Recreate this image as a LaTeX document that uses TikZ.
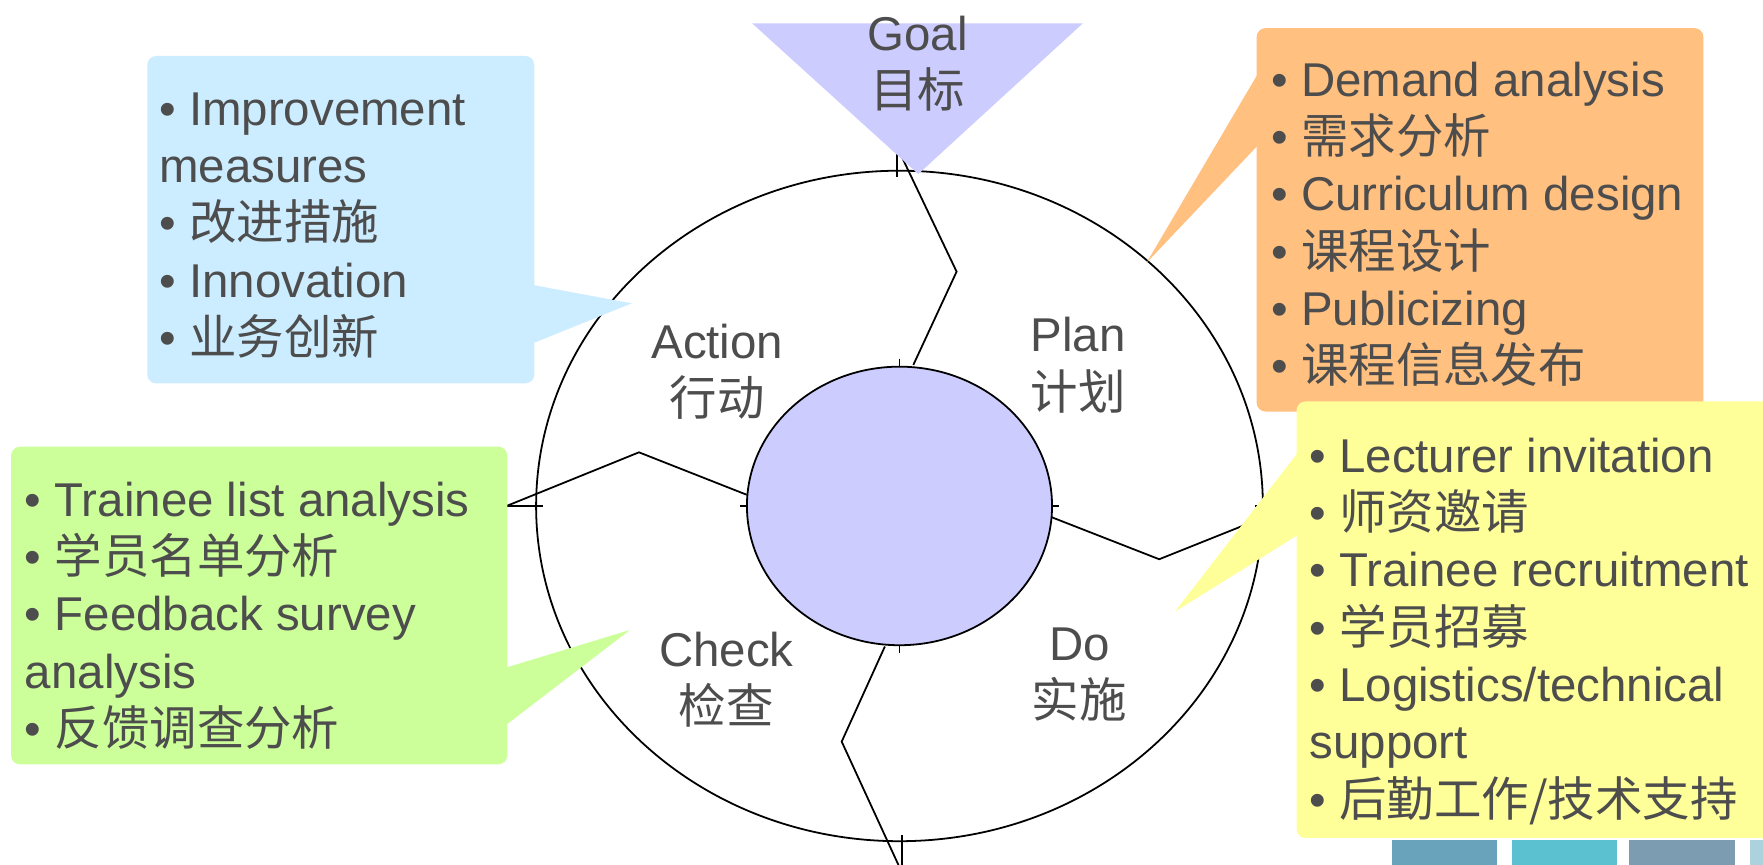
\documentclass[tikz,border=0pt]{standalone}
\usepackage{fontspec}
\setmainfont{Liberation Sans}
\newfontfamily\cjk{Noto Sans CJK SC}
\definecolor{txt}{RGB}{77,77,77}
\definecolor{lav}{RGB}{204,204,255}
\definecolor{cblue}{RGB}{204,236,255}
\definecolor{corange}{RGB}{255,192,128}
\definecolor{cgreen}{RGB}{204,255,153}
\definecolor{cyellow}{RGB}{255,255,153}
\definecolor{barA}{RGB}{104,162,187}
\definecolor{barB}{RGB}{91,192,207}
\definecolor{barC}{RGB}{123,156,177}
\definecolor{barD}{RGB}{172,210,222}
\newcommand\leftlines[1]{\vtop{\baselineskip=14.5pt\lineskiplimit=-50pt\lineskip=0pt\halign{##\hfil\cr#1\crcr}}}
\newcommand\midlines[1]{\vtop{\baselineskip=14.5pt\lineskiplimit=-50pt\lineskip=0pt\halign{\hfil##\hfil\cr#1\crcr}}}
\tikzset{
  lbl/.style={inner sep=0pt, text=txt, font=\fontsize{12}{14.5}\selectfont, anchor=base},
  blk/.style={inner sep=0pt, text=txt, font=\fontsize{12}{14.5}\selectfont, anchor=base west},
  thinline/.style={line width=0.45pt, draw=black},
  callbox/.style={rounded corners=0.08cm},
}
\begin{document}
\begin{tikzpicture}[x=0.01cm,y=-0.01cm]
\useasboundingbox (0,0) rectangle (1568,769.3);
\fill[white] (0,0) rectangle (1568,769.3);
\clip (0,0) rectangle (1568,769.3);
% outer ring
\draw[thinline] (800,450) ellipse [x radius=3.23cm, y radius=2.98cm];
% dividers
\coordinate (t0) at (797.5,130); \coordinate (t1) at (850.8,241.6); \coordinate (t2) at (812.3,324.6);
\coordinate (l0) at (450.6,450); \coordinate (l1) at (568.3,402.3); \coordinate (l2) at (664,440);
\coordinate (r0) at (935.3,460); \coordinate (r1) at (1031,497.4); \coordinate (r2) at (1149.4,450);
\coordinate (b0) at (787,575); \coordinate (b1) at (748.6,659.6); \coordinate (b2) at (804,780);
\draw[thinline] (t0) -- (t1) -- (t2);
\draw[thinline] (l0) -- (l1) -- (l2);
\draw[thinline] (r0) -- (r1) -- (r2);
\draw[thinline] (b0) -- (b1) -- (b2);
% ticks
\draw[thinline] (798,124) -- (798,157);
\draw[thinline] (440,450) -- (483,450);
\draw[thinline] (1116,450) -- (1160,450);
\draw[thinline] (802,743) -- (802,780);
\draw[thinline] (800,319) -- (800,326);
\draw[thinline] (658,450) -- (664,450);
\draw[thinline] (936,450) -- (942,450);
\draw[thinline] (800,574) -- (800,581);
% inner disc
\filldraw[fill=lav, thinline] (800,450) ellipse [x radius=1.356cm, y radius=1.238cm];
% goal triangle
\fill[lav] (669,20.8) -- (963,20.8) -- (816.7,154.8) -- cycle;
% callouts
\fill[cblue, callbox] (131,49.8) rectangle (475.2,341);
\fill[cblue] (474,253.5) -- (561.8,269.8) -- (474,305.3) -- cycle;
\fill[corange, callbox] (1117.6,25) rectangle (1515,366);
\fill[corange] (1119,65.2) -- (1019.8,233.6) -- (1119,129) -- cycle;
\fill[cgreen, callbox] (9.8,397.3) rectangle (451.2,679.8);
\fill[cgreen] (450,593.8) -- (560.3,560.3) -- (450,644.8) -- cycle;
\fill[cyellow, callbox] (1153.2,357) rectangle (1600,745.3);
\fill[cyellow] (1154,403) -- (1045,544) -- (1154,476) -- cycle;
% bars
\fill[barA] (1237.7,747) rectangle (1331,780);
\fill[barB] (1345,747) rectangle (1438,780);
\fill[barC] (1449,747) rectangle (1543,780);
\fill[barD] (1556,747) rectangle (1600,780);
% labels
\node[lbl] (goal) at (816,44.5) {\midlines{Goal\cr {\cjk 目标}}};
\node[lbl] (action) at (638,318.7) {\midlines{Action\cr {\cjk 行动}}};
\node[lbl] (plan) at (959,313) {\midlines{Plan\cr {\cjk 计划}}};
\node[lbl] (check) at (646,592.5) {\midlines{Check\cr {\cjk 检查}}};
\node[lbl] (do) at (960,587.5) {\midlines{Do\cr {\cjk 实施}}};
% callout texts
\node[blk] (bluetxt) at (141,111.2) {\leftlines{• Improvement\cr measures\cr • {\cjk 改进措施}\cr • Innovation\cr • {\cjk 业务创新}}};
\node[blk] (orangetxt) at (1130,85.5) {\leftlines{• Demand analysis\cr • {\cjk 需求分析}\cr • Curriculum design\cr • {\cjk 课程设计}\cr • Publicizing\cr • {\cjk 课程信息发布}}};
\node[blk] (greentxt) at (21.5,459) {\leftlines{• Trainee list analysis\cr • {\cjk 学员名单分析}\cr • Feedback survey\cr analysis\cr • {\cjk 反馈调查分析}}};
\node[blk] (yellowtxt) at (1164,420) {\leftlines{• Lecturer invitation\cr • {\cjk 师资邀请}\cr • Trainee recruitment\cr • {\cjk 学员招募}\cr • Logistics/technical\cr support\cr • {\cjk 后勤工作/技术支持}}};
\end{tikzpicture}
\end{document}
